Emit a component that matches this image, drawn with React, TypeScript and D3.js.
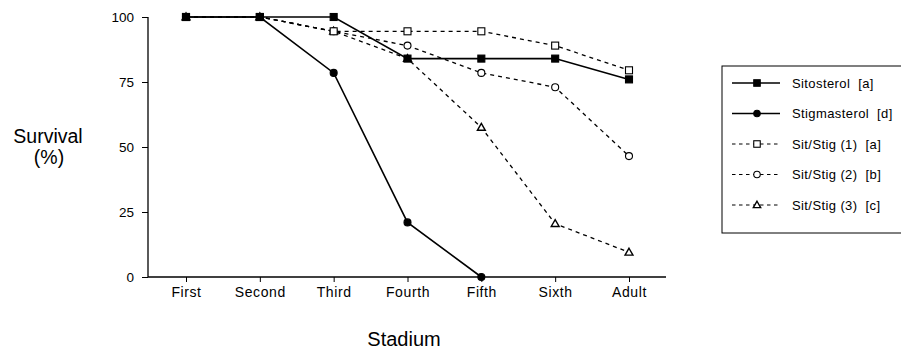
import React, { useEffect, useRef } from "react";
import * as d3 from "d3";

// stadium categories along the bottom
const stadia = ["First", "Second", "Third", "Fourth", "Fifth", "Sixth", "Adult"];
const yTicks = [0, 25, 50, 75, 100];

// survival (%)
const sitosterol = [100, 100, 100, 84, 84, 84, 76];
const stigmasterol = [100, 100, 78.5, 21, 0];
const sitStig1 = [100, 100, 94.5, 94.5, 94.5, 89, 79.5];
const sitStig2 = [100, 100, 94.5, 89, 78.5, 73, 46.5];
const sitStig3 = [100, 100, 94.5, 84, 57.5, 20.5, 9.5];

const seriesNames = [
  "Sitosterol  [a]",
  "Stigmasterol  [d]",
  "Sit/Stig (1)  [a]",
  "Sit/Stig (2)  [b]",
  "Sit/Stig (3)  [c]"
];

const App = () => {
  const ref = useRef<SVGSVGElement>(null);

  useEffect(() => {
    const svg = d3.select(ref.current);
    svg.selectAll("*").remove();

    const font = "'Liberation Sans', Arial, Helvetica, sans-serif";

    const x = d3.scalePoint().domain(stadia).range([186, 629]);
    const y = d3.scaleLinear().domain([0, 100]).range([277, 17]);

    const series = [
      { name: seriesNames[0], values: sitosterol, dash: null, marker: "square", fill: "#000" },
      { name: seriesNames[1], values: stigmasterol, dash: null, marker: "circle", fill: "#000" },
      { name: seriesNames[2], values: sitStig1, dash: "4,4", marker: "square", fill: "#fff" },
      { name: seriesNames[3], values: sitStig2, dash: "4,4", marker: "circle", fill: "#fff" },
      { name: seriesNames[4], values: sitStig3, dash: "4,4", marker: "triangle", fill: "#fff" }
    ];

    const line = d3
      .line<number>()
      .x((d, i) => x(stadia[i]) as number)
      .y(d => y(d));

    // axes
    const yAxis = d3.axisLeft(y).tickValues(yTicks).tickSize(6).tickPadding(8);
    svg
      .append("g")
      .attr("transform", "translate(148,0)")
      .call(yAxis)
      .call(g => g.select(".domain").attr("d", "M0,17V277").attr("stroke-width", 1.3))
      .call(g =>
        g.selectAll("text").attr("font-family", font).attr("font-size", 13.5).attr("fill", "#000")
      );

    const xAxis = d3.axisBottom(x).tickSize(5).tickPadding(5);
    svg
      .append("g")
      .attr("transform", "translate(0,277)")
      .call(xAxis)
      .call(g => g.select(".domain").attr("d", "M148,0H666").attr("stroke-width", 1.3))
      .call(g =>
        g
          .selectAll("text")
          .attr("font-family", font)
          .attr("font-size", 14)
          .attr("letter-spacing", 0.6)
          .attr("fill", "#000")
      );

    const drawMarker = (g, kind, fill, cx, cy, s) => {
      if (kind === "square") {
        g.append("rect")
          .attr("x", cx - s / 2)
          .attr("y", cy - s / 2)
          .attr("width", s)
          .attr("height", s)
          .attr("fill", fill)
          .attr("stroke", "#000")
          .attr("stroke-width", 1.1);
      } else if (kind === "circle") {
        g.append("circle")
          .attr("cx", cx)
          .attr("cy", cy)
          .attr("r", s / 2)
          .attr("fill", fill)
          .attr("stroke", "#000")
          .attr("stroke-width", 1.1);
      } else {
        const sym = d3.symbol().type(d3.symbolTriangle).size(s * s * 0.55);
        g.append("path")
          .attr("transform", `translate(${cx},${cy + 0.5})`)
          .attr("d", sym())
          .attr("fill", fill)
          .attr("stroke", "#000")
          .attr("stroke-width", 1.4);
      }
    };

    const plot = svg.append("g");
    // dashed series first, solid on top, then markers
    const order = [4, 3, 2, 0, 1];
    order.forEach(k => {
      const s = series[k];
      plot
        .append("path")
        .attr("d", line(s.values))
        .attr("fill", "none")
        .attr("stroke", "#000")
        .attr("stroke-width", s.dash ? 1.3 : 1.6)
        .attr("stroke-dasharray", s.dash);
    });
    order.forEach(k => {
      const s = series[k];
      s.values.forEach((v, i) =>
        drawMarker(plot, s.marker, s.fill, x(stadia[i]) as number, y(v), 7)
      );
    });

    // axis titles
    svg
      .append("text")
      .attr("x", 48)
      .attr("y", 143)
      .attr("text-anchor", "middle")
      .attr("font-family", font)
      .attr("font-size", 19.5)
      .text("Survival");
    svg
      .append("text")
      .attr("x", 49)
      .attr("y", 164)
      .attr("text-anchor", "middle")
      .attr("font-family", font)
      .attr("font-size", 19.5)
      .text("(%)");
    svg
      .append("text")
      .attr("x", 404)
      .attr("y", 346)
      .attr("text-anchor", "middle")
      .attr("font-family", font)
      .attr("font-size", 20)
      .text("Stadium");

    // legend
    const legend = svg.append("g");
    legend
      .append("rect")
      .attr("x", 722)
      .attr("y", 66)
      .attr("width", 190)
      .attr("height", 167)
      .attr("fill", "none")
      .attr("stroke", "#000")
      .attr("stroke-width", 1);
    const rowY = d3.scalePoint().domain(seriesNames).range([83, 205]);
    series.forEach(s => {
      const yy = rowY(s.name) as number;
      legend
        .append("line")
        .attr("x1", 732)
        .attr("x2", 780)
        .attr("y1", yy)
        .attr("y2", yy)
        .attr("stroke", "#000")
        .attr("stroke-width", s.dash ? 1.1 : 1.5)
        .attr("stroke-dasharray", s.dash ? "3.5,3.5" : null);
      drawMarker(legend, s.marker, s.fill, 757, yy, 6.5);
      legend
        .append("text")
        .attr("x", 792)
        .attr("y", yy + 4.5)
        .attr("font-family", font)
        .attr("font-size", 13)
        .attr("letter-spacing", 0.4)
        .style("white-space", "pre")
        .text(s.name);
    });
  }, []);

  return (
    <svg
      ref={ref}
      width={901}
      height={353}
      style={{ position: "absolute", left: 0, top: 0, background: "#fff" }}
    />
  );
};

export default App;
